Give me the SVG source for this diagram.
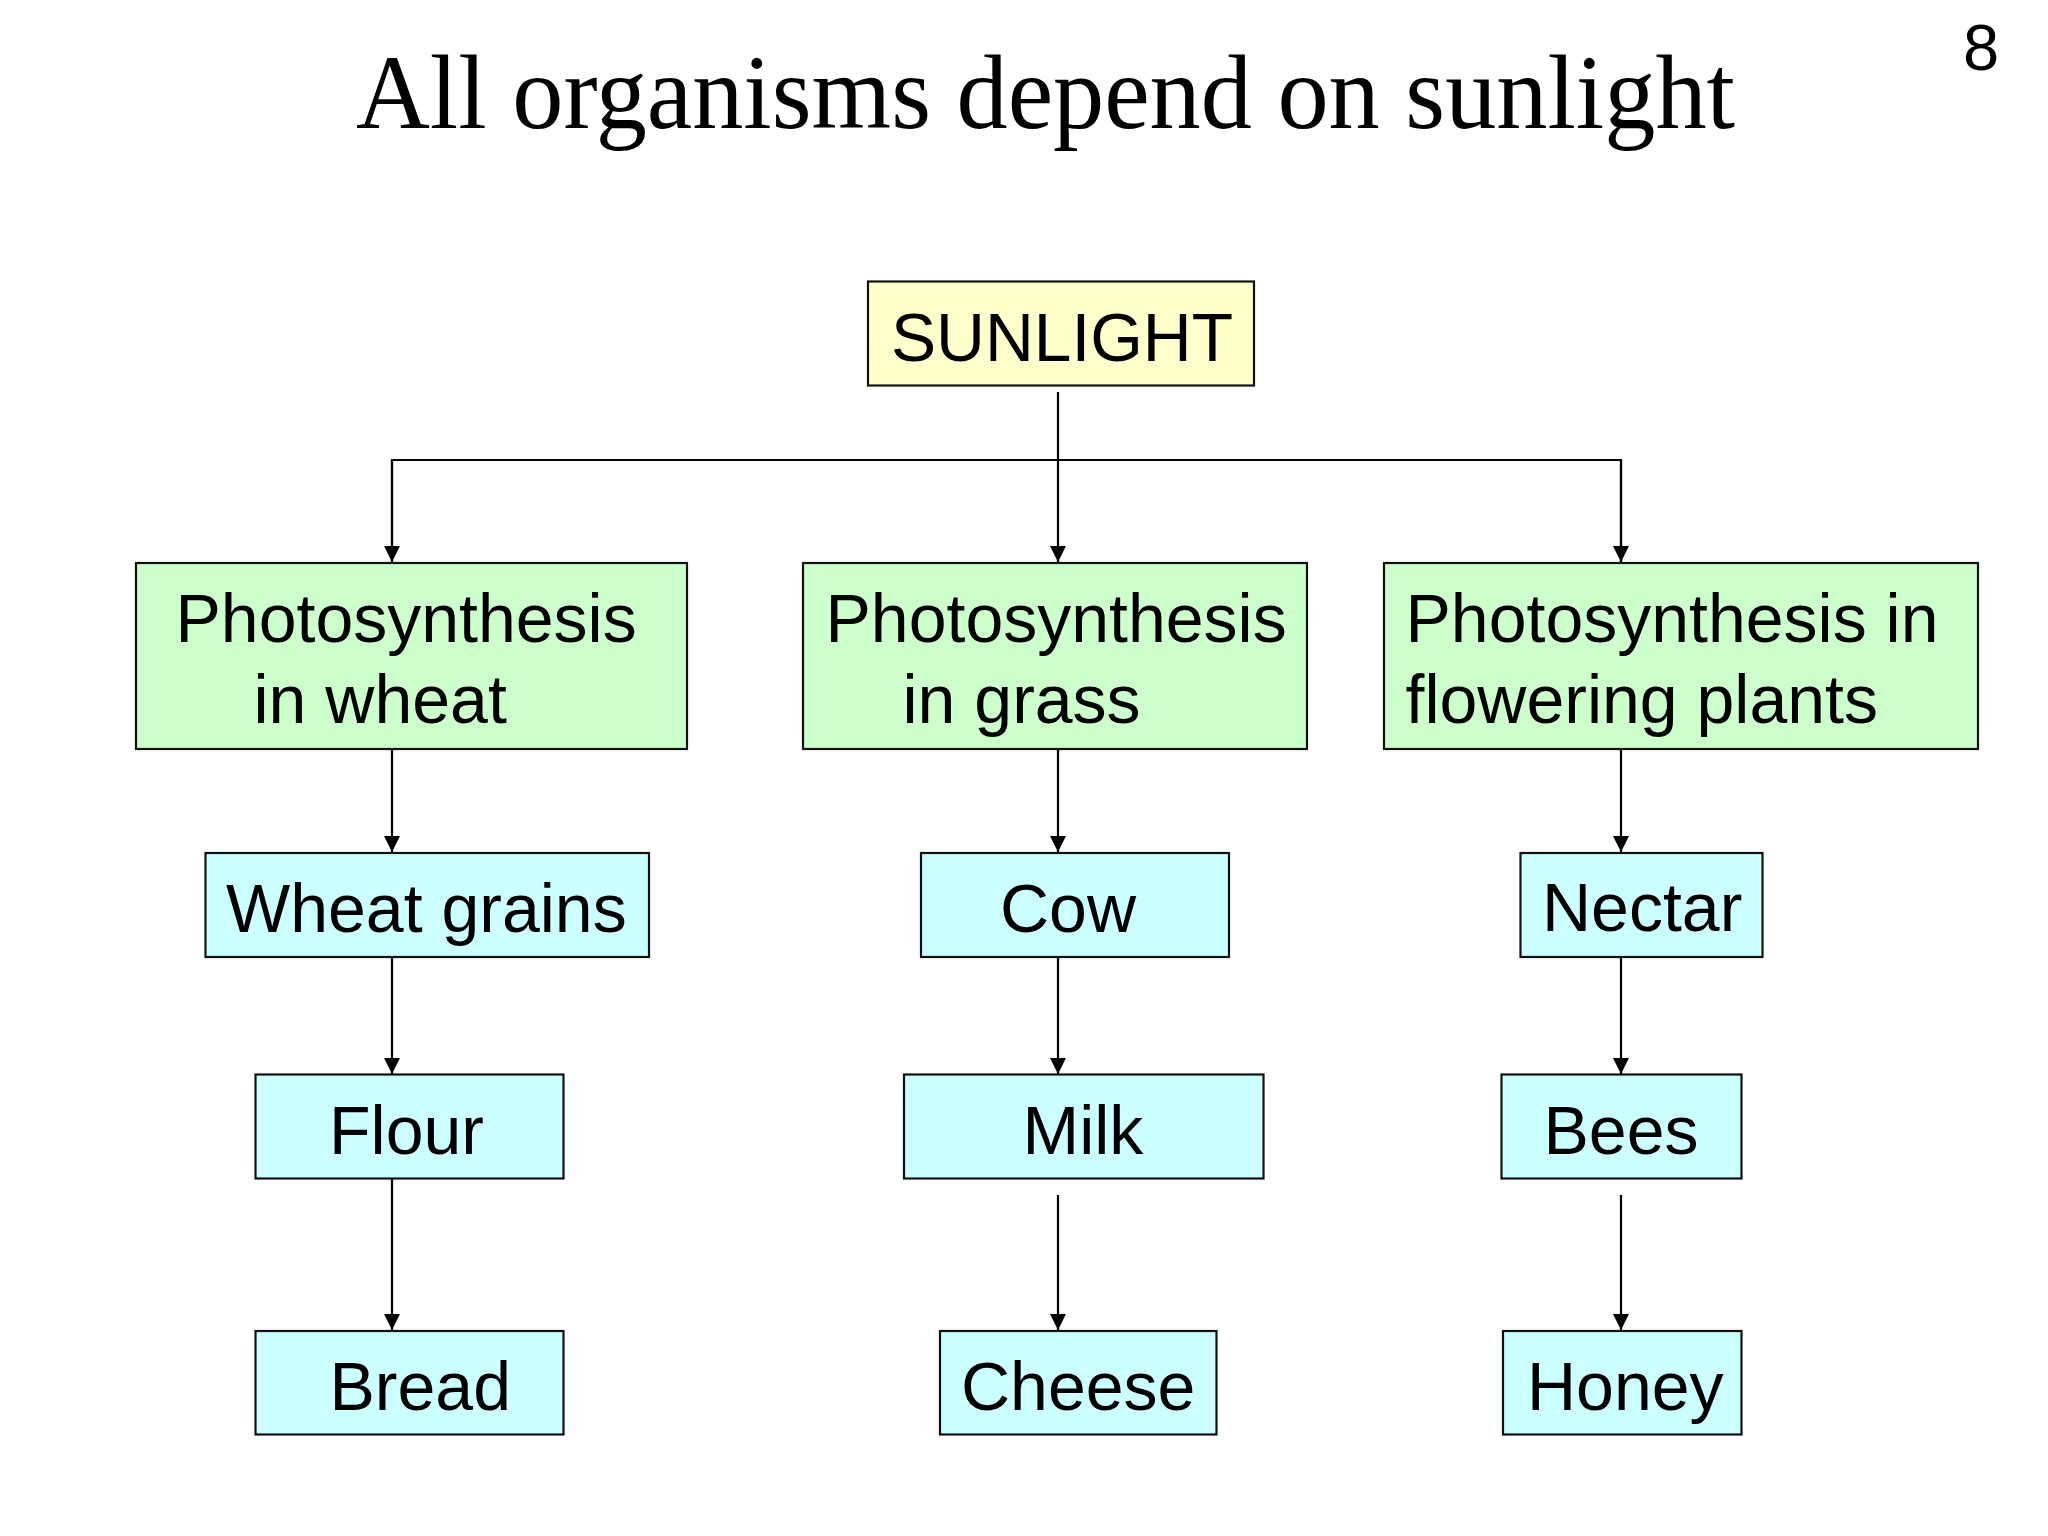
<svg xmlns="http://www.w3.org/2000/svg" width="2048" height="1536" viewBox="0 0 2048 1536">
<defs>
<style>
.box{stroke:#111;stroke-width:2.2}
.sun{fill:#FFFFCC}
.green{fill:#CCFFCC}
.cyan{fill:#CCFFFF}
.lbl{font-family:"Liberation Sans",Arial,sans-serif;font-size:68px;fill:#000}
.title{font-family:"Liberation Serif","Times New Roman",serif;font-size:105px;fill:#000}
.conn{stroke:#000;stroke-width:2.2;fill:none}
</style>
<marker id="ah" viewBox="0 0 16 16" refX="16" refY="8" markerWidth="16" markerHeight="16" markerUnits="userSpaceOnUse" orient="auto">
<path d="M0,0 L16,8 L0,16 z" fill="#000"/>
</marker>
</defs>
<rect width="2048" height="1536" fill="#fff"/>
<text class="title" x="356" y="128" textLength="1379" lengthAdjust="spacingAndGlyphs">All organisms depend on sunlight</text>
<text x="1963" y="70" font-family="Liberation Sans, Arial, sans-serif" font-size="65">8</text>

<g id="connectors">
<line class="conn" x1="1058" y1="392" x2="1058" y2="562" marker-end="url(#ah)"/>
<polyline class="conn" points="392,562 392,460 1621,460 1621,562"/>
<line class="conn" x1="392" y1="460" x2="392" y2="562" marker-end="url(#ah)"/>
<line class="conn" x1="1621" y1="460" x2="1621" y2="562" marker-end="url(#ah)"/>
<line class="conn" x1="392" y1="750" x2="392" y2="852" marker-end="url(#ah)"/>
<line class="conn" x1="392" y1="957" x2="392" y2="1074" marker-end="url(#ah)"/>
<line class="conn" x1="392" y1="1179" x2="392" y2="1330" marker-end="url(#ah)"/>
<line class="conn" x1="1058" y1="750" x2="1058" y2="852" marker-end="url(#ah)"/>
<line class="conn" x1="1058" y1="957" x2="1058" y2="1074" marker-end="url(#ah)"/>
<line class="conn" x1="1058" y1="1195" x2="1058" y2="1330" marker-end="url(#ah)"/>
<line class="conn" x1="1621" y1="750" x2="1621" y2="852" marker-end="url(#ah)"/>
<line class="conn" x1="1621" y1="957" x2="1621" y2="1074" marker-end="url(#ah)"/>
<line class="conn" x1="1621" y1="1195" x2="1621" y2="1330" marker-end="url(#ah)"/>
</g>

<g id="sunlight">
<rect class="box sun" x="868" y="281.5" width="386" height="104"/>
<text class="lbl" x="891" y="361" textLength="342" lengthAdjust="spacingAndGlyphs">SUNLIGHT</text>
</g>

<g id="photo-wheat">
<rect class="box green" x="136" y="563" width="551" height="186"/>
<text class="lbl" x="175.5" y="642">Photosynthesis</text>
<text class="lbl" x="253.5" y="723">in wheat</text>
</g>
<g id="photo-grass">
<rect class="box green" x="803" y="563" width="504" height="186"/>
<text class="lbl" x="825.5" y="642">Photosynthesis</text>
<text class="lbl" x="902.5" y="723">in grass</text>
</g>
<g id="photo-flowering">
<rect class="box green" x="1384" y="563" width="594" height="186"/>
<text class="lbl" x="1405.5" y="642">Photosynthesis in</text>
<text class="lbl" x="1405.5" y="723">flowering plants</text>
</g>

<g id="wheat-grains">
<rect class="box cyan" x="205.5" y="853" width="443.5" height="104"/>
<text class="lbl" x="226" y="932">Wheat grains</text>
</g>
<g id="cow">
<rect class="box cyan" x="921" y="853" width="308" height="104"/>
<text class="lbl" x="1000" y="932">Cow</text>
</g>
<g id="nectar">
<rect class="box cyan" x="1520.5" y="853" width="242" height="104"/>
<text class="lbl" x="1542" y="931">Nectar</text>
</g>

<g id="flour">
<rect class="box cyan" x="255.5" y="1074.5" width="308" height="104"/>
<text class="lbl" x="329" y="1154">Flour</text>
</g>
<g id="milk">
<rect class="box cyan" x="904" y="1074.5" width="359.5" height="104"/>
<text class="lbl" x="1022.5" y="1154">Milk</text>
</g>
<g id="bees">
<rect class="box cyan" x="1501.5" y="1074.5" width="240" height="104"/>
<text class="lbl" x="1543.5" y="1154">Bees</text>
</g>

<g id="bread">
<rect class="box cyan" x="255.5" y="1331" width="308" height="103.5"/>
<text class="lbl" x="329.5" y="1409.5">Bread</text>
</g>
<g id="cheese">
<rect class="box cyan" x="940" y="1331" width="276.5" height="103.5"/>
<text class="lbl" x="961" y="1409.5">Cheese</text>
</g>
<g id="honey">
<rect class="box cyan" x="1503" y="1331" width="238.5" height="103.5"/>
<text class="lbl" x="1527" y="1409.5">Honey</text>
</g>
</svg>
